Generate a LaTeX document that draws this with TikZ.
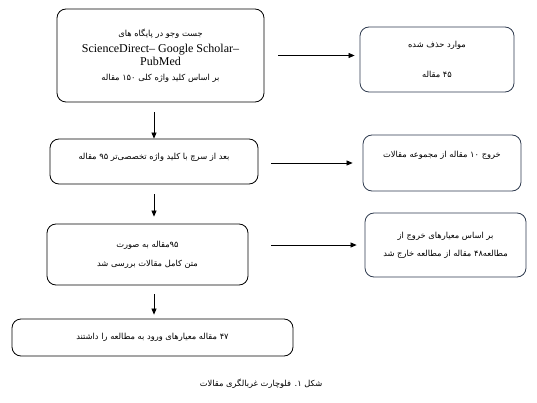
\documentclass[tikz,border=0pt]{standalone}
\usepackage{fontspec}
\setmainfont{Liberation Serif}
\newfontfamily\fa[Script=Arabic]{DejaVu Sans}
\TeXXeTstate=1
\usetikzlibrary{arrows.meta}
\definecolor{edge}{HTML}{2E3A4E}
\newcommand{\fatx}[1]{{\fa\fontsize{8.3}{10}\selectfont\beginR #1\endR}}
\begin{document}
\begin{tikzpicture}[x=1pt,y=-1pt,
  box/.style={draw,rounded corners=9pt,line width=0.8pt,align=center,inner sep=0pt,font=\fontsize{12}{13}\selectfont},
  side/.style={box,draw=edge},
  arr/.style={-{Triangle[length=6pt,width=5pt]},line width=0.7pt}]
\useasboundingbox (0,0) rectangle (537,403);
% left column
\node[box,minimum width=207,minimum height=93] (b1) at (160.5,55.5)
  {\fatx{جست وجو در پایگاه های}\\[3pt]
   ScienceDirect– Google Scholar–\\
   PubMed\\[2pt]
   \fatx{بر اساس کلید واژه کلی ۱۵۰ مقاله}};
\node[box,minimum width=208,minimum height=45,text height=8pt,text depth=11pt] (b3) at (154,161.5)
  {\fatx{بعد از سرچ با کلید واژه تخصصی‌تر ۹۵ مقاله}};
\node[box,minimum width=201,minimum height=61] (b5) at (147.5,254.5)
  {\fatx{۹۵مقاله به صورت}\\[6pt]\fatx{متن کامل مقالات بررسی شد}};
\node[box,minimum width=281,minimum height=37] (b7) at (152.5,337.5)
  {\fatx{۴۷ مقاله معیارهای ورود به مطالعه را داشتند}};
% right column
\node[side,minimum width=154,minimum height=65] (b2) at (437,59.5)
  {\fatx{موارد حذف شده}\\[17pt]\fatx{۴۵ مقاله}};
\node[side,minimum width=158,minimum height=56,text height=8pt,text depth=18pt] (b4) at (442,163)
  {\fatx{خروج ۱۰ مقاله از مجموعه مقالات}};
\node[side,minimum width=161,minimum height=64] (b6) at (445.5,245)
  {\fatx{بر اساس معیارهای خروج از}\\[5pt]\fatx{مطالعه۴۸ مقاله از مطالعه خارج شد}};
% arrows
\draw[arr,shorten <=14pt,shorten >=5pt] (b1.east) -- (b1.east -| b2.west);
\draw[arr,shorten <=13pt,shorten >=10pt] (b4.west -| b3.east) -- (b4.west);
\draw[arr,shorten <=23pt,shorten >=8pt] (b6.west -| b5.east) -- (b6.west);
\draw[arr,shorten <=10pt] (b1.south -| b3.north) -- (b3.north);
\draw[arr,shorten <=10pt,shorten >=7pt] (b3.south) -- (b3.south |- b5.north);
\draw[arr,shorten <=9pt,shorten >=4pt] (b5.south -| b3.south) -- (b3.south |- b7.north);
\node (cap) at (261,384) {\fatx{شکل ۱. فلوچارت غربالگری مقالات}};
\end{tikzpicture}
\end{document}
